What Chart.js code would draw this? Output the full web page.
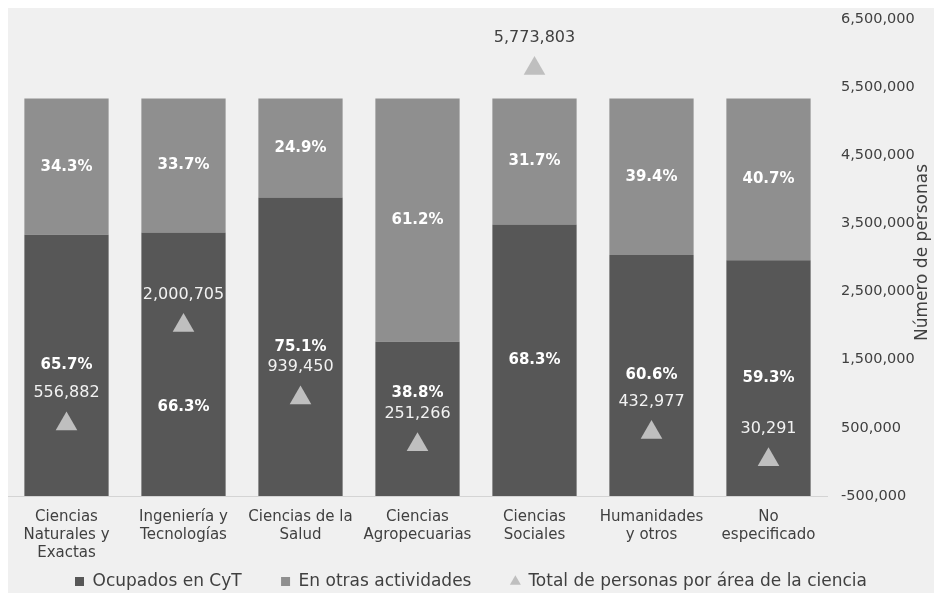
<!DOCTYPE html>
<html>
<head>
<meta charset="utf-8">
<script src="https://cdn.jsdelivr.net/npm/chart.js@4/dist/chart.umd.min.js"></script>
<style>
	html, body { margin: 0; padding: 0; background: #ffffff; }
	#contenedor { position: absolute; left: 8px; top: 8px; width: 926px; height: 585px; background: #f0f0f0; }
	#graficoPersonasPorArea { display: block; }
</style>
</head>
<body>
<div id="contenedor">
	<canvas id="graficoPersonasPorArea" width="926" height="585"></canvas>
</div>
<script>
var categorias = [
	['Ciencias', 'Naturales y', 'Exactas'],
	['Ingeniería y', 'Tecnologías'],
	['Ciencias de la', 'Salud'],
	['Ciencias', 'Agropecuarias'],
	['Ciencias', 'Sociales'],
	['Humanidades', 'y otros'],
	['No', 'especificado']
];
var ocupadosCyT = [65.7, 66.3, 75.1, 38.8, 68.3, 60.6, 59.3];
var otrasActividades = [34.3, 33.7, 24.9, 61.2, 31.7, 39.4, 40.7];
var totalPersonas = [556882, 2000705, 939450, 251266, 5773803, 432977, 30291];
var ticksPersonas = [-500000, 500000, 1500000, 2500000, 3500000, 4500000, 5500000, 6500000];

var COR_TEXTO = '#404040';
var FONTE = '"DejaVu Sans", sans-serif';

function formatarNumero(v) {
	return Number(v).toLocaleString('en-US');
}

function semPadding(eixo) {
	eixo.paddingTop = 0;
	eixo.paddingBottom = 0;
	eixo.paddingLeft = 0;
	eixo.paddingRight = 0;
}

// porcentajes dentro de cada segmento y totales encima de los triángulos
var rotulos = {
	id: 'rotulos',
	afterDatasetsDraw: function(chart) {
		var ctx = chart.ctx;
		var desvio = [[0, 43, 0, -26, 0, 0, 0], [0, 0, 0, 0, 0, 0, 0]];
		ctx.save();
		ctx.textAlign = 'center';
		ctx.textBaseline = 'middle';
		ctx.font = 'bold 15px ' + FONTE;
		ctx.fillStyle = '#ffffff';
		[0, 1].forEach(function(ds) {
			var meta = chart.getDatasetMeta(ds);
			meta.data.forEach(function(barra, i) {
				var valor = chart.data.datasets[ds].data[i];
				var y = (barra.y + barra.base) / 2 + desvio[ds][i];
				ctx.fillText(valor.toFixed(1) + '%', barra.x, y);
			});
		});

		var topoBarras = chart.scales.y.getPixelForValue(100);
		ctx.font = '16px ' + FONTE;
		chart.getDatasetMeta(2).data.forEach(function(ponto, i) {
			var y = ponto.y - 31;
			ctx.fillStyle = y < topoBarras ? COR_TEXTO : '#f2f2f2';
			ctx.fillText(formatarNumero(totalPersonas[i]), ponto.x, y);
		});

		// título del eje derecho, de abajo hacia arriba
		var area = chart.chartArea;
		ctx.translate(915, (area.top + area.bottom) / 2 - 5);
		ctx.rotate(-Math.PI / 2);
		ctx.font = '17px ' + FONTE;
		ctx.fillStyle = COR_TEXTO;
		ctx.fillText('Número de personas', 0, 0);
		ctx.restore();
	}
};

var ctx = document.getElementById('graficoPersonasPorArea').getContext('2d');
var grafico = new Chart(ctx, {
	data: {
		labels: categorias,
		datasets: [{
			type: 'bar',
			label: 'Ocupados en CyT',
			data: ocupadosCyT,
			backgroundColor: '#575757',
			yAxisID: 'y',
			order: 1,
			pointStyle: 'rect'
		}, {
			type: 'bar',
			label: 'En otras actividades',
			data: otrasActividades,
			backgroundColor: '#8f8f8f',
			yAxisID: 'y',
			order: 1,
			pointStyle: 'rect'
		}, {
			type: 'line',
			label: 'Total de personas por área de la ciencia',
			data: totalPersonas,
			yAxisID: 'y2',
			showLine: false,
			pointStyle: 'triangle',
			pointRadius: 12.5,
			pointHoverRadius: 12.5,
			pointBorderWidth: 0,
			backgroundColor: '#bfbfbf',
			borderColor: '#bfbfbf',
			borderWidth: 0,
			order: 0
		}]
	},
	options: {
		responsive: false,
		animation: false,
		layout: { autoPadding: false, padding: { top: 11, left: 0, right: 0, bottom: -7 } },
		plugins: {
			tooltip: { enabled: false },
			legend: {
				position: 'bottom',
				labels: {
					usePointStyle: true,
					boxWidth: 9,
					boxHeight: 9,
					padding: 9,
					color: COR_TEXTO,
					font: { family: FONTE, size: 17 },
					sort: function(a, b) { return a.datasetIndex - b.datasetIndex; },
					generateLabels: function(chart) {
						var itens = Chart.defaults.plugins.legend.labels.generateLabels(chart);
						var ultimo = chart.data.datasets.length - 1;
						// separación entre las entradas de la leyenda
						itens.forEach(function(item) {
							if (item.datasetIndex < ultimo) {
								item.text += '     \u2009';
							}
						});
						return itens;
					}
				}
			}
		},
		scales: {
			x: {
				stacked: true,
				grid: { display: false, drawTicks: false },
				border: { display: true, color: '#d4d4d4', width: 1 },
				afterFit: function(eixo) {
					semPadding(eixo);
					eixo.height = 68;
				},
				ticks: {
					color: COR_TEXTO,
					padding: 12,
					maxRotation: 0,
					autoSkip: false,
					font: { family: FONTE, size: 15, lineHeight: 1.2 }
				},
				barPercentage: 0.745,
				categoryPercentage: 1
			},
			y: {
				stacked: true,
				display: false,
				min: 0,
				max: 120
			},
			y2: {
				position: 'right',
				min: -500000,
				max: 6500000,
				grid: { display: false, drawTicks: false },
				border: { display: false },
				afterBuildTicks: function(eixo) {
					eixo.ticks = ticksPersonas.map(function(v) { return { value: v }; });
				},
				afterFit: function(eixo) {
					semPadding(eixo);
					eixo.width = 107;
				},
				ticks: {
					color: COR_TEXTO,
					padding: 14,
					font: { family: FONTE, size: 14.5 },
					callback: function(v) { return formatarNumero(v); }
				}
			}
		}
	},
	plugins: [rotulos]
});
</script>
</body>
</html>
